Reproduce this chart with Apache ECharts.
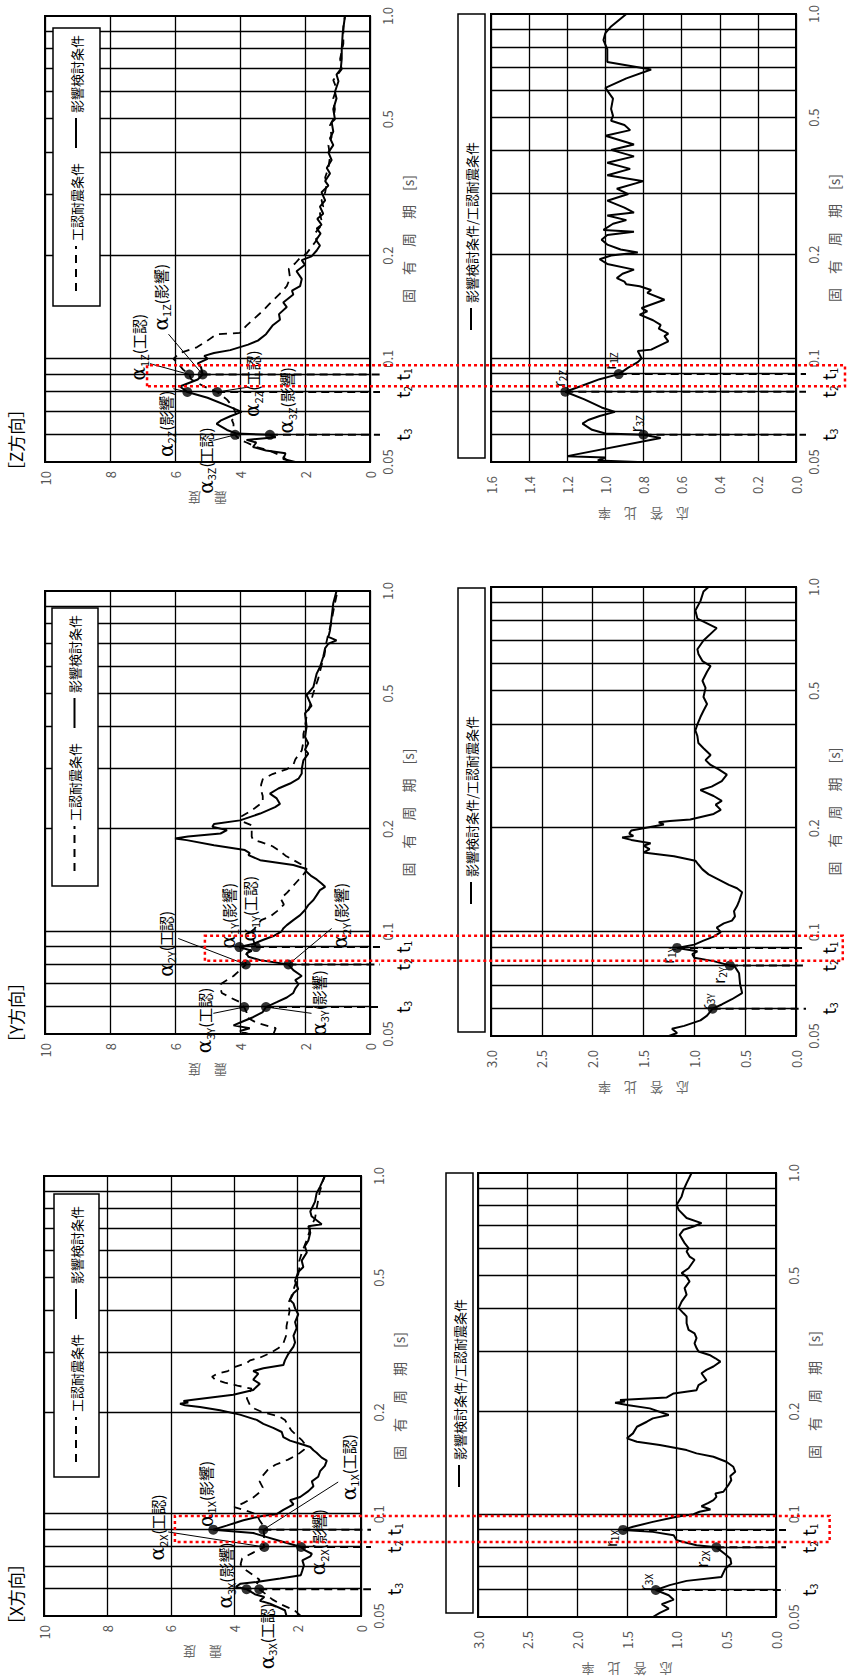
<!DOCTYPE html>
<html>
<head>
<meta charset="utf-8">
<script src="https://cdn.jsdelivr.net/npm/echarts@6/dist/echarts.min.js"></script>
<style>
html, body { margin: 0; padding: 0; background: #fff; overflow: hidden; }
#page { position: absolute; left: 0; top: 0; width: 847px; height: 1680px; overflow: hidden; }
/* the sheet is drawn in landscape and turned a quarter to the left */
#chart { position: absolute; left: 0; top: 0; width: 1680px; height: 847px;
  transform-origin: 0 0; transform: translateY(1680px) rotate(-90deg); }
</style>
</head>
<body>
<div id="page"><div id="chart"></div></div>
<script>
// periods t1, t2, t3 [s]
var tPeriods = [0.09, 0.08, 0.06];
var periodLabels = [0.05, 0.1, 0.2, 0.5, 1.0];
var periodGrid = [0.06, 0.07, 0.08, 0.09, 0.1, 0.2, 0.3, 0.4, 0.5, 0.6, 0.7, 0.8, 0.9];

// X direction  [period, value]
var xKounin = [[0.05,1.9],[0.052,2.1],[0.054,2.5],[0.056,2.8],[0.058,3.0],[0.06,3.21],[0.062,3.3],[0.064,3.2],[0.066,3.4],[0.068,3.6],[0.071,3.8],[0.074,3.75],[0.077,3.4],[0.08,3.05],[0.083,3.1],[0.086,3.05],[0.09,3.08],[0.093,3.1],[0.096,3.2],[0.1,3.3],[0.103,3.7],[0.105,4.0],[0.108,3.7],[0.112,3.4],[0.116,3.2],[0.12,3.1],[0.125,3.2],[0.13,3.1],[0.135,2.95],[0.14,2.7],[0.145,2.3],[0.15,2.0],[0.155,1.8],[0.16,1.75],[0.165,1.85],[0.17,2.0],[0.177,2.2],[0.183,2.3],[0.19,2.4],[0.195,2.6],[0.2,3.1],[0.205,3.35],[0.21,3.5],[0.215,3.55],[0.22,3.6],[0.227,3.55],[0.235,3.45],[0.24,3.9],[0.245,4.3],[0.25,4.6],[0.255,4.7],[0.26,4.55],[0.265,4.2],[0.272,4.0],[0.28,3.6],[0.285,3.5],[0.29,3.2],[0.3,2.85],[0.31,2.6],[0.32,2.45],[0.34,2.35],[0.36,2.35],[0.38,2.3],[0.4,2.25],[0.42,2.3],[0.44,2.2],[0.47,2.1],[0.5,2.0],[0.53,1.95],[0.56,1.95],[0.6,1.85],[0.65,1.7],[0.7,1.6],[0.75,1.45],[0.8,1.4],[0.85,1.35],[0.9,1.3],[1.0,1.15]];
var xEikyo = [[0.05,2.35],[0.052,2.4],[0.0544,2.87],[0.0555,3.19],[0.0569,3.05],[0.058,3.35],[0.06,3.61],[0.061,3.95],[0.0623,3.8],[0.063,3.3],[0.0645,2.55],[0.066,1.9],[0.0682,1.85],[0.0706,1.8],[0.073,1.85],[0.075,1.6],[0.0764,1.55],[0.078,1.75],[0.08,1.89],[0.083,2.5],[0.086,3.05],[0.088,3.4],[0.09,4.66],[0.0925,4.24],[0.096,3.71],[0.099,3.08],[0.1,2.66],[0.103,2.45],[0.107,2.13],[0.11,2.24],[0.1124,1.92],[0.117,1.66],[0.121,1.5],[0.125,1.55],[0.129,1.35],[0.134,1.29],[0.139,1.14],[0.144,1.08],[0.147,1.24],[0.152,1.4],[0.1545,1.5],[0.158,1.6],[0.1616,1.92],[0.165,2.24],[0.169,2.45],[0.175,2.5],[0.18,2.77],[0.185,3.08],[0.19,3.29],[0.197,3.82],[0.203,4.45],[0.2075,5.08],[0.21,5.55],[0.212,5.71],[0.214,5.45],[0.216,5.6],[0.218,5.3],[0.2255,4.03],[0.233,3.4],[0.243,3.19],[0.25,3.4],[0.2603,3.24],[0.265,3.4],[0.27,3.08],[0.276,2.45],[0.285,2.4],[0.298,2.29],[0.313,2.13],[0.322,2.08],[0.337,2.13],[0.355,2.03],[0.37,2.08],[0.39,1.98],[0.406,2.08],[0.42,2.13],[0.43,2.24],[0.45,2.13],[0.463,1.98],[0.49,2.08],[0.52,1.98],[0.538,1.82],[0.562,1.87],[0.594,1.71],[0.62,1.77],[0.645,1.66],[0.68,1.6],[0.71,1.66],[0.72,1.24],[0.76,1.56],[0.785,1.6],[0.84,1.45],[0.89,1.4],[0.93,1.29],[1.0,1.14]];
var xRatio = [[0.05,1.24],[0.0514,1.17],[0.0529,1.08],[0.0545,1.15],[0.0562,1.03],[0.0579,1.08],[0.06,1.21],[0.062,1.07],[0.0638,0.9],[0.0655,0.55],[0.0693,0.51],[0.0717,0.45],[0.0742,0.46],[0.0767,0.52],[0.08,0.6],[0.0811,0.8],[0.0839,1.0],[0.0868,1.03],[0.0888,1.24],[0.09,1.54],[0.0919,1.44],[0.095,1.24],[0.0983,1.0],[0.1,0.83],[0.1017,0.77],[0.1033,0.66],[0.1056,0.75],[0.108,0.68],[0.11,0.63],[0.1125,0.6],[0.115,0.61],[0.1164,0.53],[0.1217,0.48],[0.1259,0.45],[0.1294,0.46],[0.1332,0.41],[0.1378,0.43],[0.1425,0.5],[0.1474,0.63],[0.1508,0.8],[0.1542,0.9],[0.1595,1.17],[0.1631,1.4],[0.1669,1.5],[0.1726,1.44],[0.1805,1.4],[0.1867,1.3],[0.191,1.24],[0.1953,1.08],[0.2043,1.27],[0.209,1.5],[0.2123,1.62],[0.214,1.52],[0.2162,1.57],[0.22,1.1],[0.226,1.03],[0.231,0.8],[0.239,0.78],[0.247,0.7],[0.259,0.75],[0.265,0.7],[0.271,0.63],[0.28,0.56],[0.2865,0.61],[0.293,0.67],[0.3,0.78],[0.307,0.8],[0.317,0.82],[0.328,0.8],[0.339,0.82],[0.347,0.88],[0.363,0.9],[0.38,0.9],[0.388,0.93],[0.402,0.98],[0.42,0.95],[0.44,0.9],[0.46,0.92],[0.481,0.87],[0.497,0.9],[0.509,0.95],[0.526,0.88],[0.557,0.82],[0.569,0.87],[0.589,0.9],[0.602,0.88],[0.623,0.92],[0.659,0.97],[0.682,0.93],[0.697,0.83],[0.713,0.75],[0.738,0.9],[0.78,0.98],[0.807,1.0],[0.854,0.95],[0.893,0.93],[0.934,0.9],[1.0,0.85]];
var xKouninPts = [3.08, 3.05, 3.21];
var xEikyoPts = [4.66, 1.89, 3.61];
var xRatioPts = [1.54, 0.60, 1.21];

// Y direction
var yKounin = [[0.05,2.97],[0.052,2.9],[0.054,3.5],[0.056,3.8],[0.058,3.8],[0.06,3.87],[0.062,4.0],[0.064,4.3],[0.066,4.56],[0.068,4.6],[0.07,4.6],[0.072,4.4],[0.074,4.2],[0.077,4.0],[0.08,3.82],[0.083,3.85],[0.086,3.8],[0.088,3.7],[0.09,3.51],[0.092,3.55],[0.095,3.6],[0.097,3.65],[0.1,3.65],[0.102,3.55],[0.105,3.45],[0.108,3.35],[0.111,3.05],[0.115,2.85],[0.12,2.65],[0.125,2.75],[0.13,2.55],[0.135,2.4],[0.14,2.25],[0.145,2.1],[0.15,1.98],[0.153,1.95],[0.157,2.1],[0.162,2.35],[0.167,2.6],[0.173,2.8],[0.178,3.0],[0.183,3.35],[0.186,3.6],[0.19,3.64],[0.195,3.64],[0.2,3.64],[0.205,3.64],[0.21,3.9],[0.218,3.95],[0.225,3.7],[0.23,3.55],[0.24,3.3],[0.25,3.3],[0.26,3.35],[0.27,3.35],[0.28,3.3],[0.29,3.0],[0.3,2.55],[0.31,2.35],[0.32,2.3],[0.34,2.1],[0.36,2.05],[0.38,2.05],[0.4,2.0],[0.43,1.95],[0.46,1.85],[0.5,1.75],[0.55,1.6],[0.6,1.5],[0.65,1.4],[0.7,1.35],[0.75,1.28],[0.8,1.2],[0.85,1.15],[0.9,1.1],[1.0,1.0]];
var yEikyo = [[0.05,3.74],[0.051,4.0],[0.052,3.7],[0.053,4.2],[0.0545,3.9],[0.056,3.6],[0.058,3.3],[0.06,3.2],[0.062,2.87],[0.064,2.56],[0.066,2.36],[0.068,2.3],[0.07,2.2],[0.072,2.3],[0.074,2.1],[0.077,2.36],[0.08,2.51],[0.0824,3.38],[0.0843,3.74],[0.0862,3.8],[0.0878,3.64],[0.09,4.02],[0.0919,3.6],[0.0944,3.3],[0.097,2.97],[0.1,2.72],[0.102,2.67],[0.1044,2.56],[0.108,2.36],[0.1117,2.15],[0.1156,2.0],[0.1195,1.9],[0.1237,1.74],[0.1279,1.64],[0.1323,1.54],[0.1353,1.38],[0.1384,1.49],[0.1422,1.64],[0.1454,1.8],[0.1497,1.95],[0.1532,2.0],[0.1567,2.36],[0.162,3.38],[0.1676,3.74],[0.17,3.7],[0.1734,3.85],[0.1793,4.8],[0.1855,5.64],[0.1876,6.0],[0.19,5.6],[0.194,4.6],[0.1985,4.4],[0.203,4.85],[0.207,4.8],[0.212,4.0],[0.222,3.38],[0.232,2.92],[0.237,2.77],[0.246,2.87],[0.254,3.08],[0.263,2.82],[0.272,2.46],[0.281,2.2],[0.291,2.1],[0.3,2.1],[0.318,2.05],[0.333,1.9],[0.342,2.0],[0.357,1.9],[0.373,2.0],[0.4,1.95],[0.437,2.0],[0.46,1.8],[0.495,1.95],[0.523,1.74],[0.572,1.64],[0.598,1.54],[0.64,1.44],[0.68,1.38],[0.7,1.28],[0.716,1.03],[0.733,1.28],[0.767,1.23],[0.839,1.18],[0.92,1.13],[1.0,1.03]];
var yRatio = [[0.05,1.25],[0.051,1.17],[0.0525,1.22],[0.0535,1.1],[0.0555,0.94],[0.0573,0.875],[0.06,0.82],[0.0617,0.73],[0.0639,0.63],[0.0666,0.53],[0.0707,0.55],[0.076,0.56],[0.0793,0.6],[0.08,0.65],[0.0824,0.81],[0.0843,1.0],[0.0863,1.02],[0.088,0.97],[0.09,1.17],[0.092,1.0],[0.0945,0.91],[0.097,0.81],[0.1,0.74],[0.103,0.78],[0.106,0.71],[0.108,0.63],[0.111,0.6],[0.115,0.61],[0.119,0.58],[0.123,0.56],[0.1305,0.53],[0.134,0.58],[0.137,0.66],[0.142,0.76],[0.147,0.86],[0.152,0.92],[0.157,0.96],[0.161,0.99],[0.166,1.2],[0.17,1.5],[0.174,1.44],[0.178,1.5],[0.181,1.43],[0.185,1.62],[0.188,1.71],[0.19,1.6],[0.193,1.64],[0.197,1.62],[0.2,1.5],[0.205,1.3],[0.208,1.35],[0.21,1.24],[0.212,1.04],[0.22,0.81],[0.226,0.74],[0.234,0.79],[0.24,0.73],[0.248,0.81],[0.258,0.94],[0.264,0.83],[0.274,0.73],[0.286,0.68],[0.296,0.76],[0.305,0.84],[0.315,0.89],[0.326,0.84],[0.341,0.91],[0.353,0.96],[0.37,0.97],[0.384,0.99],[0.4,0.97],[0.42,0.94],[0.438,0.91],[0.458,0.875],[0.48,0.91],[0.51,0.89],[0.535,0.92],[0.568,0.875],[0.59,0.84],[0.61,0.92],[0.64,0.96],[0.66,0.97],[0.7,0.91],[0.76,0.78],[0.785,0.875],[0.81,0.97],[0.855,0.99],[0.91,0.94],[0.97,0.91],[1.0,0.86]];
var yKouninPts = [3.51, 3.82, 3.87];
var yEikyoPts = [4.02, 2.51, 3.2];
var yRatioPts = [1.17, 0.65, 0.82];

// Z direction
var zKounin = [[0.05,2.5],[0.052,2.7],[0.054,3.1],[0.0553,3.5],[0.057,3.8],[0.058,4.0],[0.06,4.15],[0.062,4.2],[0.0646,4.2],[0.0662,4.25],[0.068,4.1],[0.07,4.15],[0.072,4.2],[0.076,4.4],[0.08,4.7],[0.083,5.1],[0.087,5.5],[0.09,5.56],[0.093,5.75],[0.098,5.95],[0.1,6.05],[0.104,5.85],[0.108,5.33],[0.113,5.0],[0.118,4.72],[0.119,4.0],[0.125,3.8],[0.13,3.6],[0.138,3.3],[0.145,3.08],[0.155,2.77],[0.163,2.56],[0.172,2.46],[0.183,2.5],[0.19,2.3],[0.197,2.15],[0.203,1.95],[0.212,1.8],[0.222,1.64],[0.232,1.7],[0.242,1.54],[0.253,1.49],[0.265,1.54],[0.278,1.44],[0.29,1.49],[0.306,1.38],[0.325,1.33],[0.338,1.38],[0.36,1.28],[0.39,1.23],[0.42,1.28],[0.444,1.18],[0.48,1.23],[0.5,1.13],[0.535,1.08],[0.575,1.13],[0.615,1.03],[0.65,1.13],[0.68,0.97],[0.7,0.87],[0.75,0.92],[0.83,0.82],[0.93,0.82],[1.0,0.77]];
var zEikyo = [[0.05,2.3],[0.051,2.67],[0.053,2.6],[0.054,3.2],[0.0553,3.6],[0.057,3.5],[0.058,3.8],[0.059,2.9],[0.06,3.08],[0.0605,4.1],[0.062,4.4],[0.0646,4.72],[0.066,4.6],[0.068,4.3],[0.07,3.95],[0.073,4.4],[0.077,5.0],[0.08,5.62],[0.083,5.85],[0.087,5.3],[0.09,5.15],[0.0946,5.2],[0.097,5.3],[0.1,5.0],[0.102,5.1],[0.104,4.8],[0.106,4.3],[0.11,3.75],[0.113,3.45],[0.118,3.2],[0.125,3.0],[0.13,2.77],[0.135,2.8],[0.1416,2.56],[0.146,2.67],[0.154,2.36],[0.158,2.4],[0.163,2.15],[0.171,2.1],[0.18,2.26],[0.188,2.0],[0.194,2.1],[0.199,1.8],[0.207,1.64],[0.214,1.54],[0.222,1.66],[0.232,1.52],[0.24,1.64],[0.246,1.49],[0.256,1.62],[0.265,1.44],[0.278,1.54],[0.29,1.38],[0.306,1.49],[0.32,1.28],[0.33,1.38],[0.347,1.23],[0.36,1.33],[0.38,1.18],[0.4,1.28],[0.42,1.13],[0.44,1.23],[0.46,1.13],[0.49,1.18],[0.5,1.08],[0.535,1.13],[0.575,1.03],[0.6,1.08],[0.645,0.97],[0.675,1.03],[0.7,0.9],[0.75,0.87],[0.8,0.87],[0.89,0.84],[1.0,0.77]];
var zRatio = [[0.05,0.83],[0.0505,1.04],[0.051,1.02],[0.0515,1.0],[0.052,1.2],[0.0587,0.71],[0.06,0.8],[0.0605,1.0],[0.062,1.07],[0.0646,1.12],[0.0662,1.09],[0.068,1.03],[0.0699,0.95],[0.072,1.02],[0.076,1.11],[0.08,1.21],[0.083,1.13],[0.087,1.03],[0.09,0.93],[0.094,0.88],[0.0975,0.83],[0.1,0.81],[0.105,0.83],[0.106,0.76],[0.108,0.73],[0.112,0.67],[0.116,0.69],[0.118,0.67],[0.122,0.72],[0.125,0.71],[0.129,0.75],[0.134,0.82],[0.137,0.78],[0.14,0.81],[0.148,0.69],[0.155,0.78],[0.158,0.76],[0.162,0.82],[0.164,0.89],[0.167,0.9],[0.171,0.94],[0.176,0.91],[0.181,0.85],[0.188,0.99],[0.194,1.03],[0.199,0.97],[0.203,0.83],[0.207,0.92],[0.214,0.99],[0.221,1.02],[0.228,0.99],[0.233,0.85],[0.236,1.01],[0.246,0.96],[0.252,0.89],[0.26,0.99],[0.265,0.85],[0.274,0.9],[0.287,0.99],[0.3,0.88],[0.311,0.94],[0.327,0.8],[0.34,0.99],[0.355,0.87],[0.37,0.99],[0.386,0.85],[0.403,0.97],[0.418,0.85],[0.443,1.0],[0.46,0.87],[0.476,0.9],[0.49,0.97],[0.506,0.96],[0.53,0.97],[0.568,0.96],[0.61,1.0],[0.65,0.89],[0.69,0.76],[0.725,0.99],[0.79,0.99],[0.84,1.01],[0.88,1.0],[0.92,0.97],[1.0,0.89]];
var zKouninPts = [5.56, 4.70, 4.15];
var zEikyoPts = [5.15, 5.62, 3.08];
var zRatioPts = [0.93, 1.21, 0.80];

// notes: [grid, period at text start, value at text middle, subscript, condition, leader from, leader to]
var alphaNotes = [
  [0, 0.073, 6.42, '2X', '工認', [0.0886, 6.08], [0.08, 3.05]],
  [0, 0.0917, 4.9, '1X', '影響', null, null],
  [0, 0.11, 0.38, '1X', '工認', [0.1245, 0.72], [0.09, 3.08]],
  [0, 0.066, 1.35, '2X', '影響', null, null],
  [0, 0.0526, 4.29, '3X', '影響', null, null],
  [0, 0.0348, 2.98, '3X', '工認', null, null],
  [2, 0.0737, 6.29, '2Y', '工認', [0.0954, 5.9], [0.08, 3.82]],
  [2, 0.0892, 4.36, '1Y', '影響', null, null],
  [2, 0.0935, 3.71, '1Y', '工認', null, null],
  [2, 0.0892, 0.92, '2Y', '影響', [0.1021, 1.18], [0.08, 2.51]],
  [2, 0.0439, 5.1, '3Y', '工認', [0.0575, 4.82], [0.06, 3.87]],
  [2, 0.0494, 1.57, '3Y', '影響', [0.0575, 1.8], [0.06, 3.2]],
  [4, 0.0865, 7.13, '1Z', '工認', [0.0968, 6.77], [0.09, 5.56]],
  [4, 0.121, 6.44, '1Z', '影響', [0.118, 6.2], [0.09, 5.15]],
  [4, 0.0517, 6.29, '2Z', '影響', [0.0818, 6.05], [0.08, 5.62]],
  [4, 0.0677, 3.62, '2Z', '工認', [0.0827, 3.74], [0.08, 4.70]],
  [4, 0.0605, 2.58, '3Z', '影響', null, null],
  [4, 0.0404, 5.05, '3Z', '工認', [0.0578, 4.82], [0.06, 4.15]]
];
var rNotes = [
  [1, 0.0802, 1.67, '1X'], [1, 0.0698, 0.75, '2X'], [1, 0.0596, 1.32, '3X'],
  [3, 0.081, 1.26, '1Y'], [3, 0.0709, 0.76, '2Y'], [3, 0.0594, 0.885, '3Y'],
  [5, 0.0927, 0.977, '1Z'], [5, 0.0825, 1.245, '2Z'], [5, 0.061, 0.84, '3Z']
];
// red dotted frames: [top grid, bottom grid, period from, period to, value on top grid, value on bottom grid]
var redFrames = [[0, 1, 0.0827, 0.0988, 5.87, -0.54], [2, 3, 0.0821, 0.0971, 5.08, -0.46], [4, 5, 0.0831, 0.0957, 6.86, -0.257]];

var FONT = '"Noto Sans CJK JP", "Noto Sans", sans-serif';

var panels = [
  { title: '［X方向］', kounin: xKounin, eikyo: xEikyo, ratio: xRatio, kPts: xKouninPts, ePts: xEikyoPts, rPts: xRatioPts,
    top: [64, 44, 440, 317], bot: [63, 478, 444, 298], rMax: 3, rStep: 0.5,
    legTop: [203, 54, 283, 45], legBot: [67, 446, 440, 27] },
  { title: '［Y方向］', kounin: yKounin, eikyo: yEikyo, ratio: yRatio, kPts: yKouninPts, ePts: yEikyoPts, rPts: yRatioPts,
    top: [646, 45, 443, 325], bot: [644, 491, 449, 305], rMax: 3, rStep: 0.5,
    legTop: [794, 52, 278, 46], legBot: [648, 458, 444, 27] },
  { title: '［Z方向］', kounin: zKounin, eikyo: zEikyo, ratio: zRatio, kPts: zKouninPts, ePts: zEikyoPts, rPts: zRatioPts,
    top: [1218, 45, 446, 325], bot: [1218, 491, 448, 305], rMax: 1.6, rStep: 0.2,
    legTop: [1374, 53, 278, 47], legBot: [1222, 458, 444, 27] }
];

function gridOf(r) {
  return { left: r[0], top: r[1], width: r[2], height: r[3], show: true, borderColor: '#000', borderWidth: 2,
    backgroundColor: 'transparent', containLabel: false, outerBoundsMode: 'none' };
}
function periodAxis(g) {
  return {
    gridIndex: g, type: 'log', logBase: 10, min: 0.05, max: 1.0,
    axisLine: { show: false }, axisTick: { show: false }, splitLine: { show: false },
    axisLabel: { customValues: periodLabels, margin: 11, fontSize: 13, color: '#555', fontFamily: FONT,
      formatter: function (v) { return v >= 0.999 ? '1.0' : String(Math.round(v * 100) / 100); } },
    name: '固　有　周　期　[s]', nameLocation: 'middle', nameGap: 31,
    nameTextStyle: { fontSize: 14, color: '#555', fontFamily: FONT }
  };
}
function valueAxis(g, max, step, margin) {
  return {
    gridIndex: g, type: 'value', min: 0, max: max, interval: step,
    axisLine: { show: false }, axisTick: { show: false },
    splitLine: { show: true, lineStyle: { color: '#000', width: 1.3 } },
    axisLabel: { margin: margin, fontSize: 13, color: '#555', fontFamily: FONT,
      formatter: function (v) { return step < 1 ? v.toFixed(1) : String(v); } }
  };
}
function periodLines() {
  return { silent: true, symbol: ['none', 'none'], animation: false, label: { show: false },
    emphasis: { disabled: true }, lineStyle: { color: '#000', width: 1.3, type: 'solid' },
    data: periodGrid.map(function (p) { return { xAxis: p }; }) };
}
function curve(name, g, data, dashed, withLines) {
  var s = { name: name, type: 'line', xAxisIndex: g, yAxisIndex: g, data: data, symbol: 'none', silent: true, z: 3,
    itemStyle: { color: '#000' }, emphasis: { disabled: true },
    lineStyle: { color: '#000', width: dashed ? 1.8 : 2, type: dashed ? [8, 6] : 'solid' } };
  if (withLines) s.markLine = periodLines();
  return s;
}
function dots(g, lists) {
  var d = [];
  lists.forEach(function (vals) { vals.forEach(function (v, k) { d.push([tPeriods[k], v]); }); });
  return { type: 'scatter', xAxisIndex: g, yAxisIndex: g, data: d, symbolSize: 10, z: 6, silent: true,
    itemStyle: { color: '#000' } };
}
function legendOf(name, left, top, width) {
  return { data: [name], left: left, top: top, orient: 'horizontal', itemWidth: width, itemHeight: 14,
    padding: 0, selectedMode: false, z: 20, itemStyle: { opacity: 0 },
    textStyle: { fontSize: 13, color: '#000', fontFamily: FONT } };
}

var grids = [], xAxes = [], yAxes = [], series = [], legends = [], titles = [];
panels.forEach(function (pn, i) {
  var gt = i * 2, gb = gt + 1;
  grids.push(gridOf(pn.top), gridOf(pn.bot));
  xAxes.push(periodAxis(gt), periodAxis(gb));
  yAxes.push(valueAxis(gt, 10, 2, 9), valueAxis(gb, pn.rMax, pn.rStep, 14));
  series.push(curve('工認耐震条件', gt, pn.kounin, true, true));
  series.push(curve('影響検討条件', gt, pn.eikyo, false, false));
  series.push(dots(gt, [pn.kPts, pn.ePts]));
  series.push(curve('影響検討条件/工認耐震条件', gb, pn.ratio, false, true));
  series.push(dots(gb, [pn.rPts]));
  var lt = pn.legTop, lb = pn.legBot;
  legends.push(legendOf('工認耐震条件', lt[0] + 14, lt[1] + (lt[3] - 14) / 2, 45));
  legends.push(legendOf('影響検討条件', lt[0] + 157, lt[1] + (lt[3] - 14) / 2, 30));
  legends.push(legendOf('影響検討条件/工認耐震条件', lb[0] + (lb[2] - 190) / 2, lb[1] + (lb[3] - 14) / 2, 22));
  titles.push({ text: pn.title, left: pn.top[0] - 17, top: 7, padding: 0,
    textStyle: { fontSize: 17, fontWeight: 'normal', color: '#000', fontFamily: FONT } });
});

var chart = echarts.init(document.getElementById('chart'), null, { renderer: 'svg' });
chart.setOption({
  animation: false,
  backgroundColor: '#fff',
  title: titles,
  legend: legends,
  grid: grids,
  xAxis: xAxes,
  yAxis: yAxes,
  series: series
});

// annotations placed through the axes
function pt(g, p, v) { return chart.convertToPixel({ gridIndex: g }, [p, v]); }
var alphaRich = {
  a: { fontSize: 20, fontFamily: '"DejaVu Serif", serif', fill: '#000', lineHeight: 22 },
  s: { fontSize: 11, fontFamily: FONT, fill: '#000', verticalAlign: 'bottom', lineHeight: 13 },
  k: { fontSize: 15, fontFamily: FONT, fill: '#000', lineHeight: 22 }
};
var subRich = {
  t: { fontSize: 18, fontFamily: FONT, fill: '#000', lineHeight: 20 },
  r: { fontSize: 15, fontFamily: FONT, fill: '#000', lineHeight: 18 },
  s: { fontSize: 10, fontFamily: FONT, fill: '#000', verticalAlign: 'bottom', lineHeight: 11 }
};
function line(a, b, dashed, w) {
  return { type: 'line', z: 12, silent: true, shape: { x1: a[0], y1: a[1], x2: b[0], y2: b[1] },
    style: { stroke: '#000', lineWidth: w, lineDash: dashed ? [8, 5] : null } };
}
function text(x, y, str, rich, align) {
  return { type: 'text', z: 12, silent: true, x: x, y: y,
    style: { text: str, rich: rich, fill: '#000', align: align, verticalAlign: 'middle' } };
}
function axisName(x, y, str) {
  return { type: 'text', z: 12, silent: true, x: x, y: y, rotation: Math.PI / 2,
    style: { text: str, fill: '#666', fontSize: 13, fontFamily: FONT, align: 'center', verticalAlign: 'middle' } };
}

var els = [];
panels.forEach(function (pn, i) {
  var gt = i * 2, gb = gt + 1;
  [pn.legTop, pn.legBot].forEach(function (b) {
    els.push({ type: 'rect', z: 10, silent: true, shape: { x: b[0], y: b[1], width: b[2], height: b[3] },
      style: { fill: '#fff', stroke: '#000', lineWidth: 1.5 } });
  });
  els.push(axisName(pn.top[0] - 36, pn.top[1] + pn.top[3] / 2, '震　度'));
  els.push(axisName(pn.bot[0] - 52, pn.bot[1] + pn.bot[3] / 2, '応　答　比　率'));
  tPeriods.forEach(function (t, k) {
    var a = pt(gt, t, Math.min(pn.kPts[k], pn.ePts[k])), b = pt(gt, t, 0);
    els.push(line(a, [b[0], b[1] + 10], true, 2));
    els.push(text(b[0], b[1] + 32, '{t|t}{s|' + (k + 1) + '}', subRich, 'center'));
    a = pt(gb, t, pn.rPts[k]); b = pt(gb, t, 0);
    els.push(line(a, [b[0], b[1] + 10], true, 2));
    els.push(text(b[0], b[1] + 32, '{t|t}{s|' + (k + 1) + '}', subRich, 'center'));
  });
});
alphaNotes.forEach(function (n) {
  var a = pt(n[0], n[1], n[2]);
  els.push(text(a[0], a[1], '{a|α}{s|' + n[3] + '}{k|(' + n[4] + ')}', alphaRich, 'left'));
  if (n[5]) els.push(line(pt(n[0], n[5][0], n[5][1]), pt(n[0], n[6][0], n[6][1]), false, 1));
});
rNotes.forEach(function (n) {
  var a = pt(n[0], n[1], n[2]);
  els.push(text(a[0], a[1], '{r|r}{s|' + n[3] + '}', subRich, 'left'));
});
redFrames.forEach(function (f) {
  var a = pt(f[0], f[2], f[4]), b = pt(f[0], f[3], f[4]), c = pt(f[1], f[2], f[5]);
  els.push({ type: 'rect', z: 30, silent: true, shape: { x: a[0], y: a[1], width: b[0] - a[0], height: c[1] - a[1] },
    style: { fill: 'none', stroke: '#ff0000', lineWidth: 2.5, lineDash: [3, 3] } });
});
chart.setOption({ graphic: { elements: els } });
</script>
</body>
</html>
